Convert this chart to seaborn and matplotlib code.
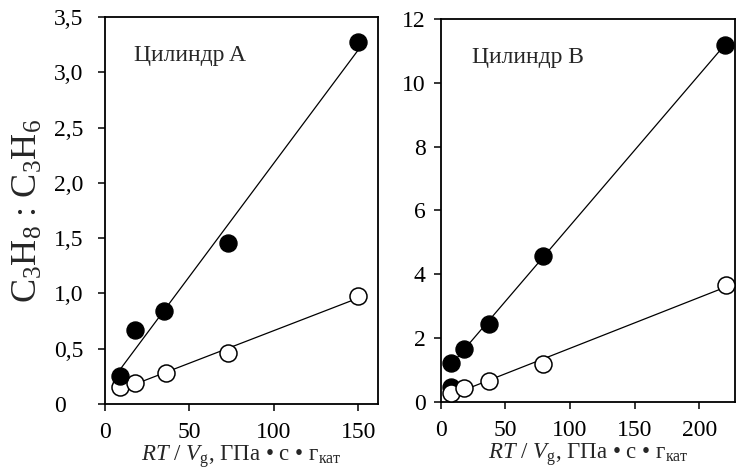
import numpy as np
import pandas as pd
import seaborn as sns
import matplotlib.pyplot as plt

# --- data ---
# Цилиндр A
a_x_full = [9, 18, 35, 73, 150]
a_y_full = [0.25, 0.67, 0.84, 1.46, 3.27]
a_x_open = [9, 18, 36, 73, 150]
a_y_open = [0.15, 0.19, 0.28, 0.46, 0.98]

# Цилиндр B
b_x_full = [8, 18, 37, 79, 220]
b_y_full = [1.20, 1.65, 2.44, 4.57, 11.2]
b_x_open = [8, 18, 37, 79, 221]
b_y_open = [0.28, 0.42, 0.66, 1.17, 3.66]
b_x_extra = [8]          # dark point half hidden under the first open circle
b_y_extra = [0.45]

a_yticks = [0, 0.5, 1.0, 1.5, 2.0, 2.5, 3.0, 3.5]
a_yticklabels = ['0', '0,5', '1,0', '1,5', '2,0', '2,5', '3,0', '3,5']
a_xticks = [0, 50, 100, 150]
b_yticks = [0, 2, 4, 6, 8, 10, 12]
b_xticks = [0, 50, 100, 150, 200]

sns.set_style("ticks")
plt.rcParams['font.family'] = ['Liberation Serif', 'DejaVu Serif']
plt.rcParams['mathtext.fontset'] = 'custom'
plt.rcParams['mathtext.rm'] = 'Liberation Serif'
plt.rcParams['mathtext.it'] = 'Liberation Serif:italic'

fig = plt.figure(figsize=(7.36, 4.70), dpi=100)
ax1 = fig.add_axes([0.1427, 0.1404, 0.3709, 0.8234])
ax2 = fig.add_axes([0.5990, 0.1453, 0.3996, 0.8143])

xlabel = r'$RT$ / $V_{\mathrm{g}}$, ГПа • с • г$_{\mathrm{кат}}$'
fs = 17


def panel(ax, xf, yf, xo, yo, title, full_on_top=False):
    line_kw = dict(color='black', lw=0.9, zorder=2)
    sns.regplot(x=xf, y=yf, ax=ax, ci=None, scatter=False, line_kws=line_kw)
    sns.regplot(x=xo, y=yo, ax=ax, ci=None, scatter=False, line_kws=line_kw)
    sns.scatterplot(x=xf, y=yf, ax=ax, s=150, color='black', edgecolor='black',
                    linewidth=1, zorder=5 if full_on_top else 3)
    sns.scatterplot(x=xo, y=yo, ax=ax, s=150, facecolor='white', edgecolor='black',
                    linewidth=1.1, zorder=4)
    ax.text(0.105, 0.90, title, transform=ax.transAxes, fontsize=fs,
            va='center', ha='left')
    for sp in ax.spines.values():
        sp.set_visible(True)
        sp.set_color('black')
        sp.set_linewidth(1.3)
    ax.tick_params(direction='out', length=5, width=1.1, labelsize=fs,
                   colors='black')
    ax.tick_params(axis='x', pad=8)
    ax.tick_params(axis='y', pad=6)
    ax.set_xlabel(xlabel, fontsize=fs - 0.5, labelpad=0)
    ax.set_ylabel('')


panel(ax1, a_x_full, a_y_full, a_x_open, a_y_open, 'Цилиндр A', full_on_top=True)
ax1.set_xlim(0, 161.6)
ax1.set_ylim(0, 3.5)
ax1.set_xticks(a_xticks)
ax1.set_xticklabels([str(t) for t in a_xticks])
ax1.set_yticks(a_yticks)
ax1.set_yticklabels(a_yticklabels)
# the left panel's tick labels are flush left in the original
ax1.tick_params(axis='y', pad=32)
for lbl in ax1.get_yticklabels():
    lbl.set_ha('left')
ax1.set_ylabel(r'C$_3$H$_8$ : C$_3$H$_6$', fontsize=26, labelpad=6)

sns.scatterplot(x=b_x_extra, y=b_y_extra, ax=ax2, s=150, color='black',
                edgecolor='black', zorder=3)
panel(ax2, b_x_full, b_y_full, b_x_open, b_y_open, 'Цилиндр B')
ax2.set_xlim(0, 227.6)
ax2.set_ylim(0, 12)
ax2.set_xticks(b_xticks)
ax2.set_xticklabels([str(t) for t in b_xticks])
ax2.set_yticks(b_yticks)
ax2.set_yticklabels([str(t) for t in b_yticks])

fig.savefig('out.png', dpi=100)
